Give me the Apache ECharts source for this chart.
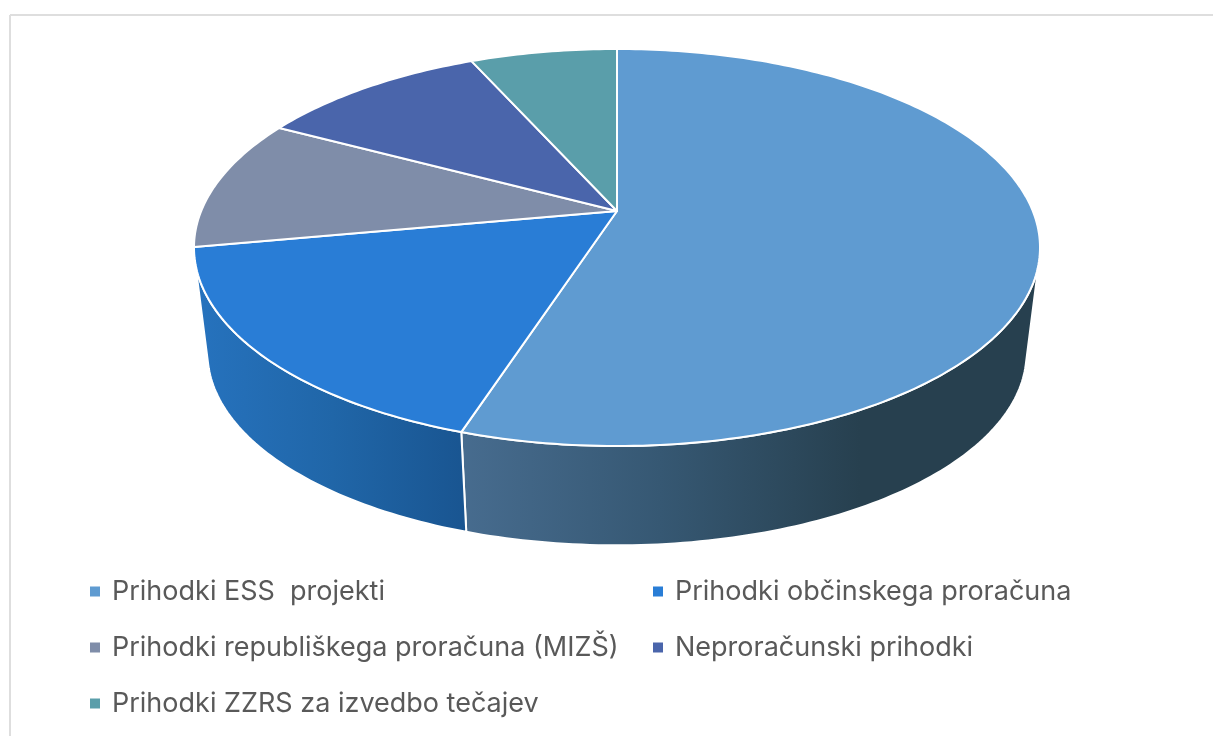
<!DOCTYPE html>
<html>
<head>
<meta charset="utf-8">
<title>Prihodki</title>
<style>
    html, body { margin: 0; padding: 0; background: #fff; }
    #chart { width: 1213px; height: 736px; }
</style>
<script src="https://cdn.jsdelivr.net/npm/echarts@6/dist/echarts.min.js"></script>
</head>
<body>
<div id="chart"></div>
<script>
var categories = [
    'Prihodki ESS  projekti',
    'Prihodki občinskega proračuna',
    'Prihodki republiškega proračuna (MIZŠ)',
    'Neproračunski prihodki',
    'Prihodki ZZRS za izvedbo tečajev'
];
var values = [55, 17.1, 10.7, 10.5, 6.7];

var topColors = ['#5f9bd1', '#297dd6', '#7f8da9', '#4a65ab', '#5a9eaa'];
// side wall gradients, only the two front slices show a wall
var sideStops = [
    { x0: 460, x1: 860, stops: ['#476c8f', '#365873', '#27404f'] },
    { x0: 200, x1: 465, stops: ['#2672bd', '#2066a8', '#195591'] }
];

// perspective of the disc
var cx = 617, cy = 211;
var persp = 0.1839, radX = 415.8, radY = 191.8;
// lower disc is the upper one scaled towards the vanishing point
var depthScale = 0.968, vanishY = 3550;

function project(deg, lower) {
    var a = deg * Math.PI / 180;
    var w = 1 + persp * Math.cos(a);
    var x = cx + radX * Math.sin(a) / w;
    var y = cy - radY * Math.cos(a) / w;
    if (lower) {
        x = cx + depthScale * (x - cx);
        y = depthScale * y + (1 - depthScale) * vanishY;
    }
    return [x, y];
}

function arc(from, to, lower) {
    var pts = [];
    var steps = Math.max(2, Math.ceil(Math.abs(to - from)));
    for (var i = 0; i <= steps; i++) {
        pts.push(project(from + (to - from) * i / steps, lower));
    }
    return pts;
}

// silhouette angles: where lines from the vanishing point touch the disc
function tangentAngle(from, to) {
    var best = from, bestVal = -1;
    for (var d = from; d <= to; d += 0.25) {
        var p = project(d, false);
        var val = Math.abs(p[0] - cx) / (vanishY - p[1]);
        if (val > bestVal) { bestVal = val; best = d; }
    }
    return best;
}
var tanRight = tangentAngle(0, 180);
var tanLeft = tangentAngle(180, 360);

var total = values.reduce(function (s, v) { return s + v; }, 0);

function sliceRange(idx) {
    var start = 0;
    for (var i = 0; i < idx; i++) start += values[i];
    return [start / total * 360, (start + values[idx]) / total * 360];
}

function renderSlice(idx) {
    var range = sliceRange(idx);
    var children = [];

    var from = Math.max(range[0], tanRight);
    var to = Math.min(range[1], tanLeft);
    if (to > from) {
        var g = sideStops[idx];
        var wall = arc(from, to, false).concat(arc(from, to, true).reverse());
        children.push({
            type: 'polygon',
            z2: 1,
            shape: { points: wall },
            style: {
                fill: new echarts.graphic.LinearGradient(g.x0, 0, g.x1, 0, [
                    { offset: 0, color: g.stops[0] },
                    { offset: 0.5, color: g.stops[1] },
                    { offset: 1, color: g.stops[2] }
                ], true),
                stroke: '#fff',
                lineWidth: 2,
                lineJoin: 'round'
            }
        });
    }

    children.push({
        type: 'polygon',
        z2: 10,
        shape: { points: [[cx, cy]].concat(arc(range[0], range[1], false)) },
        style: {
            fill: topColors[idx],
            stroke: '#fff',
            lineWidth: 2,
            lineJoin: 'round'
        }
    });
    return { type: 'group', children: children };
}

var series = categories.map(function (name, idx) {
    return {
        name: name,
        type: 'custom',
        coordinateSystem: 'none',
        silent: true,
        itemStyle: { color: topColors[idx] },
        data: [[values[idx]]],
        renderItem: function () {
            return renderSlice(idx);
        }
    };
});

var legendText = {
    fontFamily: 'Inter',
    fontSize: 27,
    color: '#595959',
    padding: [0, 0, 0, 7]
};

var chart = echarts.init(document.getElementById('chart'));
chart.setOption({
    animation: false,
    backgroundColor: '#fff',
    graphic: [
        { type: 'line', silent: true, shape: { x1: 10, y1: 15, x2: 10, y2: 736 }, style: { stroke: '#dedede', lineWidth: 2 } },
        { type: 'line', silent: true, shape: { x1: 10, y1: 15, x2: 1213, y2: 15 }, style: { stroke: '#dedede', lineWidth: 2 } }
    ],
    legend: [
        {
            orient: 'vertical', left: 90, top: 578, itemGap: 29,
            itemWidth: 10, itemHeight: 10, icon: 'rect', selectedMode: false, padding: 0,
            textStyle: legendText,
            data: [categories[0], categories[2], categories[4]]
        },
        {
            orient: 'vertical', left: 653, top: 578, itemGap: 29,
            itemWidth: 10, itemHeight: 10, icon: 'rect', selectedMode: false, padding: 0,
            textStyle: legendText,
            data: [categories[1], categories[3]]
        }
    ],
    series: series
});
</script>
</body>
</html>
